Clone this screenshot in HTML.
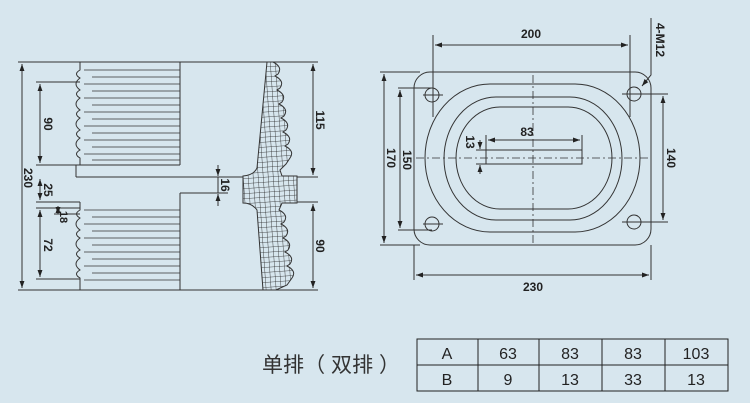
<!DOCTYPE html>
<html><head><meta charset="utf-8"><style>
html,body{margin:0;padding:0;background:#d7e6ee;}
svg{display:block;}
text{font-family:"Liberation Sans",Arial,sans-serif;font-weight:bold;font-size:12px;fill:#222;}
</style></head><body>
<svg width="750" height="403" viewBox="0 0 750 403" xmlns="http://www.w3.org/2000/svg">
<defs>
<marker id="a" viewBox="0 0 10 10" refX="10" refY="5" markerWidth="7" markerHeight="7" orient="auto-start-reverse"><path d="M0,1.5 L10,5 L0,8.5z" fill="#222"/></marker>
<pattern id="h" width="5" height="5" patternUnits="userSpaceOnUse" patternTransform="rotate(-4)"><rect width="5" height="5" fill="#d7e6ee"/><path d="M0,0H5M0,0V5" stroke="#222" stroke-width="0.8"/></pattern>
</defs>
<rect width="750" height="403" fill="#d7e6ee"/>
<g stroke="#333" stroke-width="1" fill="none">
<line x1="18" y1="62" x2="318" y2="62"/>
<line x1="18" y1="290" x2="318" y2="290"/>
<line x1="22" y1="64" x2="22" y2="288" marker-start="url(#a)" marker-end="url(#a)"/>
<path d="M80,62 V70 q-7,4 0,8 q-8,6 0,12 q-7,4 0,8 q-8,6 0,12 q-7,4 0,8 q-8,6 0,12 q-7,4 0,8 q-8,6 0,12 q-7,4 0,8 V165 H76 V177"/>
<line x1="180" y1="62" x2="180" y2="165"/>
<line x1="36" y1="165" x2="180" y2="165"/>
<line x1="76" y1="177" x2="318" y2="177"/>
<g stroke-width="0.8">
<line x1="84" y1="70" x2="180" y2="70"/><line x1="92" y1="77" x2="180" y2="77"/><line x1="84" y1="84" x2="180" y2="84"/><line x1="92" y1="91" x2="180" y2="91"/><line x1="84" y1="98" x2="180" y2="98"/><line x1="92" y1="105" x2="180" y2="105"/><line x1="84" y1="112" x2="180" y2="112"/><line x1="92" y1="119" x2="180" y2="119"/><line x1="84" y1="126" x2="180" y2="126"/><line x1="92" y1="133" x2="180" y2="133"/><line x1="84" y1="140" x2="180" y2="140"/><line x1="92" y1="147" x2="180" y2="147"/><line x1="84" y1="154" x2="180" y2="154"/><line x1="92" y1="160" x2="180" y2="160"/>
</g>
<line x1="180" y1="193" x2="228" y2="193"/>
<line x1="180" y1="193" x2="180" y2="290"/>
<path d="M80,202 V210 q-7,4 0,8 q-8,6 0,12 q-7,4 0,8 q-8,6 0,12 q-7,4 0,8 q-8,6 0,12 q-7,4 0,8 V290"/>
<line x1="36" y1="202" x2="80" y2="202"/>
<g stroke-width="0.8">
<line x1="84" y1="210" x2="180" y2="210"/><line x1="92" y1="217" x2="180" y2="217"/><line x1="84" y1="224" x2="180" y2="224"/><line x1="92" y1="231" x2="180" y2="231"/><line x1="84" y1="238" x2="180" y2="238"/><line x1="92" y1="245" x2="180" y2="245"/><line x1="84" y1="252" x2="180" y2="252"/><line x1="92" y1="259" x2="180" y2="259"/><line x1="84" y1="266" x2="180" y2="266"/><line x1="92" y1="273" x2="180" y2="273"/><line x1="84" y1="280" x2="180" y2="280"/>
</g>
<line x1="36" y1="82" x2="80" y2="82"/>
<line x1="40" y1="84" x2="40" y2="163" marker-start="url(#a)" marker-end="url(#a)"/>
<line x1="40" y1="179" x2="40" y2="200" marker-start="url(#a)" marker-end="url(#a)"/>
<line x1="36" y1="208" x2="80" y2="208"/>
<line x1="54" y1="214" x2="80" y2="214"/>
<line x1="58" y1="206" x2="58" y2="214" marker-start="url(#a)" marker-end="url(#a)"/>
<line x1="40" y1="210" x2="40" y2="277" marker-start="url(#a)" marker-end="url(#a)"/>
<line x1="36" y1="279" x2="80" y2="279"/>
<path fill="url(#h)" d="M267,62 L273,62 q10,5 5,12 l-3,2 q10,5 5,12 l-3,2 q10,5 5,12 l-3,2 q10,5 5,12 l-3,2 q10,5 5,12 l-3,2 q10,5 5,12 l-3,2 q10,5 5,12 l-4,6 L280,170 L282,176 H297 V203 H282 L279,210 q10,5 5,12 l-3,2 q10,5 5,12 l-3,2 q10,5 5,12 l-3,2 q10,5 5,12 l-3,2 q10,5 5,12 l-5,7 L276,290 H263 L257,210 Q252,203 243,203 V176 Q254,175 257,168 Z"/>
<line x1="297" y1="202" x2="318" y2="202"/>
<line x1="313" y1="64" x2="313" y2="175" marker-start="url(#a)" marker-end="url(#a)"/>
<line x1="313" y1="204" x2="313" y2="288" marker-start="url(#a)" marker-end="url(#a)"/>
<line x1="218" y1="165" x2="218" y2="176" marker-end="url(#a)"/>
<line x1="218" y1="206" x2="218" y2="194" marker-end="url(#a)"/>
<line x1="218" y1="177" x2="218" y2="193"/>

<rect x="414" y="72" width="237" height="173" rx="16"/>
<path d="M490,84 H575 A65,74 0 0 1 575,232 H490 A65,74 0 0 1 490,84 Z"/>
<path d="M496,97 H570 A52,61.5 0 0 1 570,220 H496 A52,61.5 0 0 1 496,97 Z"/>
<path d="M500,107 H568 A44,51 0 0 1 568,209 H500 A44,51 0 0 1 500,107 Z"/>
<rect x="486" y="150" width="96" height="14"/>
<line x1="533" y1="75" x2="533" y2="245" stroke-dasharray="8,3,2,3" stroke-width="0.8"/>
<line x1="416" y1="158" x2="650" y2="158" stroke-dasharray="8,3,2,3" stroke-width="0.8"/>
<circle cx="432" cy="95" r="7"/><circle cx="634" cy="94" r="7"/>
<circle cx="432" cy="224" r="7"/><circle cx="634" cy="222" r="7"/>
<line x1="433" y1="35" x2="433" y2="117"/><line x1="630" y1="35" x2="630" y2="117"/>
<line x1="423" y1="95" x2="443" y2="95"/><line x1="622" y1="94" x2="668" y2="94"/>
<line x1="423" y1="224" x2="443" y2="224"/><line x1="622" y1="222" x2="668" y2="222"/>
<line x1="398" y1="88" x2="432" y2="88"/><line x1="398" y1="230" x2="432" y2="230"/>
<line x1="380" y1="72" x2="420" y2="72"/><line x1="380" y1="245" x2="420" y2="245"/>
<line x1="435" y1="45" x2="628" y2="45" marker-start="url(#a)" marker-end="url(#a)"/>
<line x1="414" y1="245" x2="414" y2="280"/><line x1="651" y1="245" x2="651" y2="280"/>
<line x1="416" y1="275" x2="649" y2="275" marker-start="url(#a)" marker-end="url(#a)"/>
<line x1="384" y1="74" x2="384" y2="243" marker-start="url(#a)" marker-end="url(#a)"/>
<line x1="400" y1="90" x2="400" y2="228" marker-start="url(#a)" marker-end="url(#a)"/>
<line x1="663" y1="96" x2="663" y2="220" marker-start="url(#a)" marker-end="url(#a)"/>
<line x1="488" y1="140" x2="580" y2="140" marker-start="url(#a)" marker-end="url(#a)"/>
<line x1="486" y1="135" x2="486" y2="150"/><line x1="582" y1="135" x2="582" y2="150"/>
<line x1="480" y1="140" x2="480" y2="149" marker-end="url(#a)"/>
<line x1="480" y1="174" x2="480" y2="165" marker-end="url(#a)"/>
<line x1="476" y1="150" x2="486" y2="150"/><line x1="476" y1="164" x2="486" y2="164"/>
<polyline points="651,18 651,75 642,86" marker-end="url(#a)"/>
<rect x="417" y="339" width="311" height="52" stroke="#222"/>
<line x1="417" y1="365" x2="728" y2="365" stroke="#222"/>
<line x1="478" y1="339" x2="478" y2="391" stroke="#222"/>
<line x1="539" y1="339" x2="539" y2="391" stroke="#222"/>
<line x1="602" y1="339" x2="602" y2="391" stroke="#222"/>
<line x1="665" y1="339" x2="665" y2="391" stroke="#222"/>
</g>
<g>
<text transform="translate(24,178) rotate(90)" text-anchor="middle">230</text>
<text transform="translate(44,124) rotate(90)" text-anchor="middle">90</text>
<text transform="translate(44,190) rotate(90)" text-anchor="middle">25</text>
<text transform="translate(60,217) rotate(90)" text-anchor="middle" style="font-size:11px">18</text>
<text transform="translate(44,245) rotate(90)" text-anchor="middle">72</text>
<text transform="translate(316,120) rotate(90)" text-anchor="middle">115</text>
<text transform="translate(316,246) rotate(90)" text-anchor="middle">90</text>
<text transform="translate(221,185) rotate(90)" text-anchor="middle">16</text>
<text x="531" y="38" text-anchor="middle">200</text>
<text x="533" y="291" text-anchor="middle">230</text>
<text x="527" y="136" text-anchor="middle">83</text>
<text transform="translate(387,158) rotate(90)" text-anchor="middle">170</text>
<text transform="translate(403,160) rotate(90)" text-anchor="middle">150</text>
<text transform="translate(667,158) rotate(90)" text-anchor="middle">140</text>
<text transform="translate(466,142) rotate(90)" text-anchor="middle">13</text>
<text transform="translate(656,40) rotate(90)" text-anchor="middle">4-M12</text>
</g>
<text x="262" y="372" textLength="138" lengthAdjust="spacing" style="font-family:'Liberation Sans','Noto Sans CJK SC',sans-serif;font-size:21px;font-weight:normal;fill:#333">单排（ 双排 ）</text>
<g text-anchor="middle">
<text x="447" y="359" style="font-size:16px;font-weight:normal">A</text>
<text x="508" y="359" style="font-size:16px;font-weight:normal">63</text>
<text x="570" y="359" style="font-size:16px;font-weight:normal">83</text>
<text x="633" y="359" style="font-size:16px;font-weight:normal">83</text>
<text x="696" y="359" style="font-size:16px;font-weight:normal">103</text>
<text x="447" y="385" style="font-size:16px;font-weight:normal">B</text>
<text x="508" y="385" style="font-size:16px;font-weight:normal">9</text>
<text x="570" y="385" style="font-size:16px;font-weight:normal">13</text>
<text x="633" y="385" style="font-size:16px;font-weight:normal">33</text>
<text x="696" y="385" style="font-size:16px;font-weight:normal">13</text>
</g>
</svg>
</body></html>
